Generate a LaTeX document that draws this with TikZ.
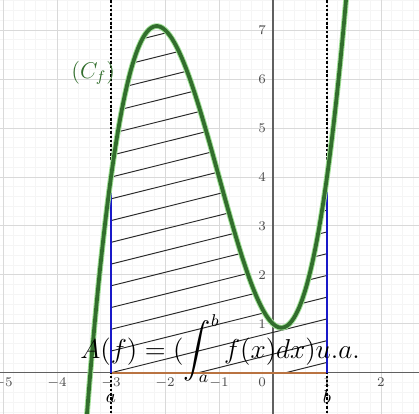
\documentclass[tikz,border=0pt]{standalone}
\usepackage{amsmath}

\definecolor{vertC}{RGB}{50,110,45}
\definecolor{vertclair}{RGB}{160,225,150}
\definecolor{bleuA}{RGB}{25,25,200}
\definecolor{orangeA}{RGB}{185,115,65}

\begin{document}
\begin{tikzpicture}[x=1cm,y=0.907cm,
    declare function={f(\t)=(\t)*(\t)*(\t)+3*(\t)*(\t)-(\t)+1;},
    courbe/.style={line width=2pt,vertC},
    pointille/.style={line width=1.1pt,dash pattern=on 1.3pt off 1pt},
    graduation/.style={font=\scriptsize,gray!60!black}]
    % Cadre de la figure
    \useasboundingbox (-5.056,-0.837) rectangle (2.704,7.612);
    \clip (-5.056,-0.837) rectangle (2.704,7.612);
    \fill[white] (-5.056,-0.837) rectangle (2.704,7.612);

    % Quadrillage
    \foreach \k in {-26,...,14}
        \draw[gray!8] (\k/5,-1) -- (\k/5,8);
    \foreach \k in {-5,...,39}
        \draw[gray!8] (-6,\k/5) -- (3,\k/5);
    \foreach \i in {-5,...,2}
        \draw[gray!30] (\i,-1) -- (\i,8);
    \foreach \j in {0,...,7}
        \draw[gray!30] (-6,\j) -- (3,\j);

    % Axes et graduations
    \draw[gray!75!black,line width=0.6pt] (-6,0) -- (3,0);
    \draw[gray!75!black,line width=0.6pt] (0,-1) -- (0,8);
    \foreach \i in {-5,-4,-3,-2,-1,1,2}
        \node[graduation] at (\i,-0.2) {$\i$};
    \foreach \j in {1,...,7}
        \node[graduation] at (-0.2,\j) {$\j$};
    \node[graduation] at (-0.2,-0.2) {$0$};

    % Hachures sous la courbe
    \begin{scope}
        \clip (-3,0) -- plot[domain=-3:1,samples=100] (\x,{f(\x)}) -- (1,0) -- cycle;
        \foreach \k in {-3,...,17}
            \draw[black!85,line width=0.5pt] (-3,{\k*0.444}) -- ++(4,1.1);
    \end{scope}

    % Segment [a,b]
    \draw[orangeA,line width=1.2pt] (-3,0) -- (1,0);

    % Droites x=a et x=b
    \draw[pointille] (-3,-1) -- (-3,8);
    \draw[pointille] (1,-1) -- (1,8);
    \draw[bleuA,line width=1.4pt] (-3,0) -- (-3,{f(-3)});
    \draw[bleuA,line width=1.4pt] (1,0) -- (1,{f(1)});

    % Courbe
    \draw[vertclair,line width=3pt] plot[domain=-3.5:1.45,samples=150] (\x,{f(\x)});
    \draw[courbe] plot[domain=-3.5:1.45,samples=150] (\x,{f(\x)});

    % Textes
    \node[vertC] (Cf) at (-3.33,6.12) {\large $(C_f)$};
    \node (a) at (-3,-0.52) {$a$};
    \node (b) at (1,-0.5) {$b$};
    \node[anchor=base] (aire) at (-0.98,0.3)
        {\fontsize{13.5}{16}\selectfont $A(f)=(\displaystyle\int_a^b f(x)dx)u.a.$};
\end{tikzpicture}
\end{document}
